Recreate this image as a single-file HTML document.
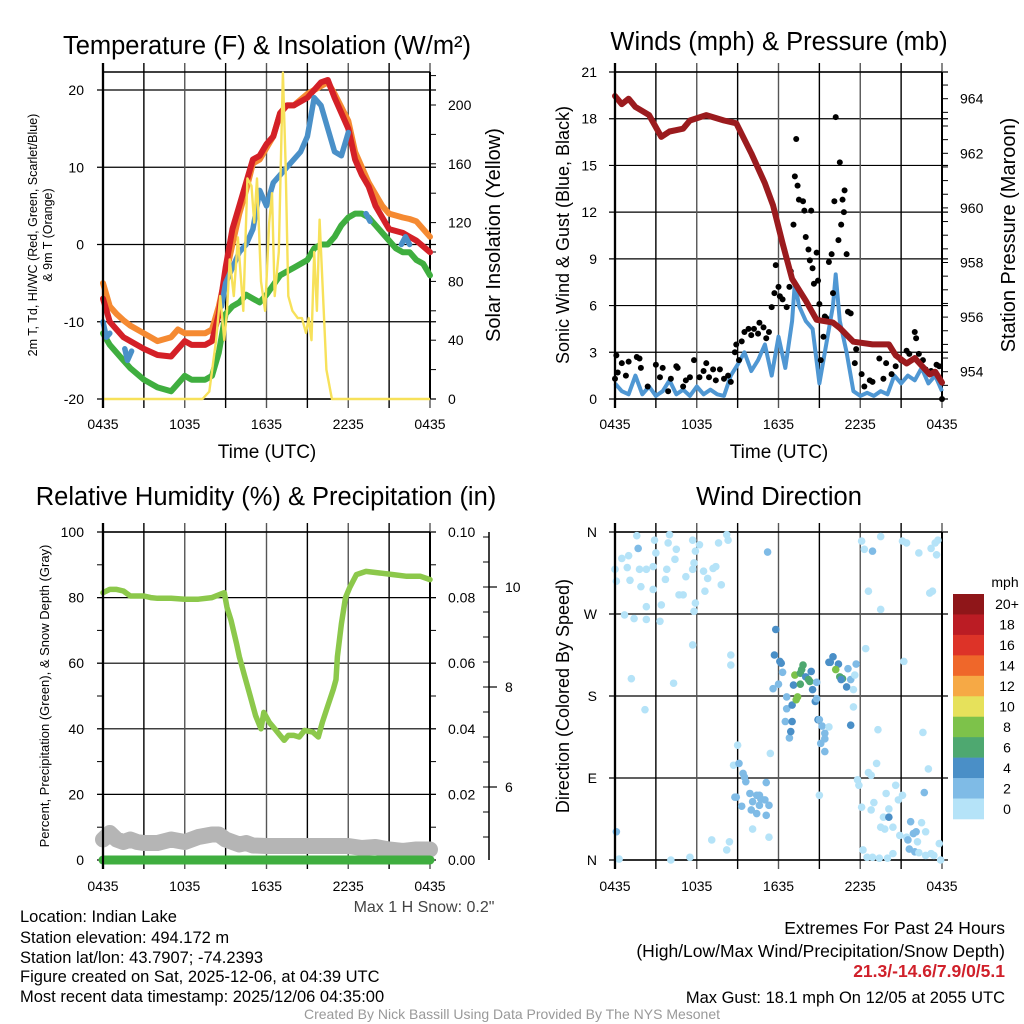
<!DOCTYPE html>
<html><head><meta charset="utf-8"><style>
html,body{margin:0;padding:0;background:#fff;}
svg{display:block;font-family:"Liberation Sans",sans-serif;}
</style></head><body>
<svg id="fig" width="1024" height="1024" viewBox="0 0 1024 1024" xmlns="http://www.w3.org/2000/svg">
<rect width="1024" height="1024" fill="#fff"/>
<g id="g1"></g>
<g id="g2"></g>
<g id="g3"></g>
<g id="g4"></g>
<g id="foot">
<text x="424" y="912" font-size="16" text-anchor="middle" fill="#444">Max 1 H Snow: 0.2"</text>
<text x="20" y="922" font-size="16.5">Location: Indian Lake</text>
<text x="20" y="943" font-size="16.5">Station elevation: 494.172 m</text>
<text x="20" y="963" font-size="16.5">Station lat/lon: 43.7907; -74.2393</text>
<text x="20" y="982" font-size="16.5">Figure created on Sat, 2025-12-06, at 04:39 UTC</text>
<text x="20" y="1002" font-size="16.5">Most recent data timestamp: 2025/12/06 04:35:00</text>
<text x="1005" y="934" font-size="17.5" text-anchor="end">Extremes For Past 24 Hours</text>
<text x="1005" y="957" font-size="17.5" text-anchor="end">(High/Low/Max Wind/Precipitation/Snow Depth)</text>
<text x="1005" y="977" font-size="17.5" font-weight="bold" text-anchor="end" fill="#d0202a">21.3/-14.6/7.9/0/5.1</text>
<text x="1005" y="1003" font-size="16.5" text-anchor="end">Max Gust: 18.1 mph On 12/05 at 2055 UTC</text>
<text x="512" y="1019" font-size="14" text-anchor="middle" fill="#999">Created By Nick Bassill Using Data Provided By The NYS Mesonet</text>
</g>
</svg>
<script>
// ---------- DATA ----------
const tempHours=[0,0.5,1,1.5,2,3,4,5,5.5,6,6.5,7,7.5,8,8.5,9,9.5,10,10.5,11,11.5,12,12.5,13,13.5,14,15,16,16.5,17,18,18.5,19,19.5,20,20.5,21,22,22.5,23,24];
const tempRed=[-7,-10,-11,-12,-12.5,-13.5,-14.3,-14.5,-13.5,-12.5,-13,-13,-13,-12.5,-9,-3,2,5,8,11,11.5,13,14,17,18,18,19,21,21.3,19,15,11,9,7.5,5,3.5,2,1.5,1,0.5,-1];
const tempOrange=[-5,-8,-9,-9.8,-10.5,-11.5,-12.5,-12,-11,-11.5,-11.5,-11.5,-11.5,-11,-8,-4,0,4,7,10.5,11,12.5,14,17,18,18,19.5,20.5,21,19.5,16,12,10,8,6.5,5,4,3.5,3.3,3,1];
const dewHours=[0,0.5,1,1.5,2,3,4,5,5.5,6,6.5,7,7.5,8,8.5,9,9.5,10,10.5,11,11.5,12,13,13.5,14,15,15.5,16,16.5,17,17.5,18,18.5,19,19.5,20,20.5,21,21.5,22,22.5,23,23.5,24];
const dewGreen=[-11.5,-13,-14,-15,-16,-17.5,-18.5,-19,-18,-17,-17.5,-17.5,-17.5,-17,-14,-9,-8,-7.5,-6.5,-7,-7.5,-6.5,-4,-3.5,-3,-2,-0.5,0,0,1,2.5,3.5,4,4,3.5,2.5,1.5,0.5,-0.5,-1,-1,-2,-2.5,-4];
const wcHours=[0,0.25,0.5,null,1.6,1.8,2.1,null,8.7,9,9.5,10,10.5,11,11.5,12,12.5,13,13.5,14,14.5,15,15.5,16,16.5,17,17.5,18,null,19.3,19.6,null,21.9,22.2,22.5];
const wcBlue=[-10,-12,-11.5,null,-13.5,-15,-13.8,null,-8,-5,-3,-1,0,2,7,5,8,9,10,11,12,14,19,18,15,12,11.5,14.5,null,4,3,null,0,1,0];
const solHours=[0,7.3,7.8,8.3,8.6,8.9,9.1,9.3,9.6,9.9,10.3,10.6,10.9,11.1,11.3,11.6,11.9,12.2,12.4,12.6,12.9,13.2,13.4,13.6,13.9,14.3,14.6,14.9,15.1,15.3,15.5,15.7,15.9,16.1,16.4,16.8,24];
const solYellow=[0,0,5,40,70,40,60,95,70,110,60,150,145,120,150,80,60,120,140,70,100,222,160,70,60,55,55,45,55,40,100,60,122,80,20,0,0];
const windHours=[0,0.5,1,1.5,2,2.5,3,3.5,4,4.5,5,5.5,6,6.5,7,7.5,8,8.5,9,9.5,10,10.5,11,11.5,12,12.5,13,13.2,13.5,14,14.5,15,15.5,16,16.2,16.5,17,17.5,18,18.5,19,19.5,20,20.5,21,21.5,22,22.5,23,23.5,24];
const windBlue=[1,0.5,0.3,1.5,0.3,0.8,0.2,0.5,1.2,0.3,0.6,0.2,0.8,0.3,0.6,0.3,0.2,1.5,2.2,3,1.8,2.5,3.5,1.5,4,2,5,7.5,6,5,4.5,1,3.5,6,8,5,3,0.5,0.2,0.4,0.2,0.5,0.3,1.5,1,1.5,1.2,2,1,1.5,0.5];
const gustHours=[0,0.1,0.2,0.5,1,0.8,1.6,1.8,1.9,2.4,3,3.3,3.5,3.9,4.1,4.5,4.6,5,5.2,5.5,5.8,6.2,6.5,6.7,6.9,7.2,7.4,7.7,8,8.3,8.5,8.8,8.9,9.1,9.3,9.5,9.8,10,10.2,10.5,10.6,10.9,11.1,11.3,11.5,11.7,11.8,12,12.1,12.3,12.6,12.8,12.9,13.1,13.2,13.3,13.4,13.5,13.8,13.9,14,14.2,14.3,14.4,14.5,14.6,14.8,14.9,15,15.1,15.3,15.4,15.5,15.7,15.9,16,16.1,16.2,16.4,16.5,16.6,16.7,16.8,16.85,17,17.1,17.3,17.6,17.7,18.1,18.3,18.7,18.9,19.4,19.7,19.9,20.3,20.6,21,21.4,21.6,22,22.1,22.3,22.6,22.8,23.2,23.6,23.8,24];
const gustVals=[1.3,2.8,1.7,2.3,2.4,1.5,2.7,2.6,2,0.8,2.2,1.4,2,0.5,1.3,2.1,2,0.8,1.2,1.4,2.5,1.4,1.8,2.3,1.4,1.9,1.2,1.9,1.3,1.5,1.1,3,3.5,2.5,3.7,4.3,4.5,4.1,4.5,4.2,4.9,4.6,3.9,4.3,5.9,6.8,8.6,7.2,6.6,6.4,5.9,7.2,8.2,11.2,14.3,16.7,13.7,12.8,12.7,12.1,10.4,9.6,8.9,12.1,8.4,7.4,9.4,7.6,6.1,2.5,4,5.3,5.2,8.8,9.3,6.8,12.7,18.1,10.2,15.2,11.2,12.8,12,13.4,9.3,5.6,5.5,2.3,3.2,1.6,0.8,1.2,1.1,2.6,1.3,2.3,1.6,2.1,2.5,3.1,2.9,4.3,3.9,2.9,2.5,1.9,1.8,2.2,2.1,0];
const presHours=[0,0.5,1,1.5,2.5,3.4,4,5,5.5,6.7,8,8.9,10,11,11.6,12.3,13,14,14.8,16,16.5,17.5,18.9,20.1,20.6,21.4,22,23.1,23.5,24];
const presVals=[964.1,963.8,964.0,963.7,963.4,962.6,962.8,962.9,963.2,963.4,963.2,963.1,962.0,960.9,960.1,958.7,957.4,956.6,955.9,955.8,955.6,955.1,955.0,955.0,954.6,954.3,954.5,953.9,954.0,953.6];
const rhHours=[0,0.5,1,1.5,2,2.5,3,3.5,4,5,6,7,8,8.9,9.1,9.4,9.8,10,10.4,10.8,11.2,11.6,11.8,12.2,12.6,13,13.3,13.6,14,14.4,14.8,15.4,15.8,16.1,16.5,16.9,17.1,17.2,17.5,17.8,18.1,18.6,19.3,20.3,21.3,22.3,23.3,24];
const rhVals=[81.5,82.5,82.5,82,80.5,80.5,80.5,80,79.8,79.8,79.5,79.5,80,81.5,77,73,66,62,56,50,44,40,45,42,40,38,36.5,38,38,37.5,39.5,39,37.5,42,47,52,55,62,72,80,83,87,88,87.5,87,86.5,86.5,85.5];
const snowHours=[0,0.5,1,1.5,2,2.5,3,4,5,6,7,8,8.5,9,9.5,10,10.5,11,12,14,16,18,19,20,21,22,23,24];
const snowVals=[4.95,5.08,4.95,4.9,4.95,4.9,4.88,4.88,4.95,4.9,5.0,5.05,5.05,4.95,4.9,4.85,4.88,4.83,4.82,4.82,4.82,4.82,4.78,4.8,4.75,4.72,4.75,4.75];
const precipHours=[0,24];
const precipVals=[0,0];
const dirHours=[0,0.1,0.5,1,0.9,1.1,1.7,1.6,1.8,1.9,2.3,2.8,2.9,3,2.8,2.3,1.4,0.7,2.3,3.3,3.4,3.8,3.7,4,3.9,4.5,4.4,4.7,5,5.2,5.7,5.8,5.9,6.2,5.7,6.5,6.6,6.8,7.2,7.4,7.8,8.2,8.3,7.6,5.9,5.8,5.7,8.5,8.5,4.3,1.2,2.2,0.1,0.3,4.1,5.5,7.1,8.2,8.4,9,8.7,9.1,9.4,9.5,9.6,8.8,8.9,9.3,9.9,10.1,10.4,10.6,10.7,11,10,10.4,10.6,11.1,11.3,11.1,10.1,11.3,11.4,11.2,11.8,11.7,12.1,12.2,12.3,12,11.6,12.6,12.6,12.5,12.8,12.9,13,13,13.1,13.2,13.4,13.3,13.6,13.7,13.8,13.6,14,14.2,14.3,14.4,14.5,14.8,14.7,14.8,14.9,15,15.2,15.7,15.4,15.4,15.1,15.4,15,15.7,16,15.8,16.4,16.2,16.5,16.7,16.6,17,17.1,17.3,17.5,17.3,17.5,17.7,17.6,18.4,19.3,18.6,18.8,19.2,17.8,17.9,18.1,18.8,19,19.5,19.7,19.9,20.1,20.1,19.8,20.4,20.6,20.8,20.9,21.1,21.4,21.5,21.7,21.9,22.1,22.5,22.2,22.8,23,22.6,22.7,21.6,22,22.3,22.8,23.2,23.4,23.8,23.9,18.2,18.5,18.9,19.4,20,20.4,18.1,18.3,18.9,19.5,21.1,21.4,21.2,18.6,19.5,22.3,23.1,23.3,23.2,23.5,23.7,23.6];
const dirDeg=[319,306,331,334,321,307,342,356,319,300,319,322,351,337,297,278,265,269,264,262,280,319,308,357,348,341,330,291,291,311,319,326,339,346,351,317,295,309,320,322,302,357,351,348,282,273,236,225,214,194,199,165,31,1,0,3,22,11,20,126,104,106,95,91,86,69,69,59,73,64,71,71,67,66,55,51,60,49,60,85,34,25,117,338,253,225,218,216,206,193,188,179,166,152,134,141,152,170,192,203,179,176,193,209,214,205,201,198,196,207,187,195,174,177,154,154,147,146,139,133,128,119,71,217,223,217,215,209,201,199,198,190,210,198,187,148,168,215,203,232,143,96,93,106,88,82,58,55,63,36,47,73,56,47,34,36,82,66,27,71,25,22,42,29,31,41,20,31,100,140,74,12,9,8,5,7,5,18,0,11,3,3,2,2,7,350,341,339,355,350,348,218,295,275,337,293,295,342,348,351,335];
const dirSpeed=[0.5,0.5,0.5,0.5,0.5,0.5,3,0.5,0.5,0.5,0.5,0.5,0.5,0.5,0.5,0.5,0.5,0.5,0.5,0.5,0.5,0.5,0.5,0.5,0.5,0.5,0.5,0.5,0.5,0.5,0.5,0.5,0.5,0.5,0.5,0.5,0.5,0.5,0.5,0.5,0.5,0.5,0.5,0.5,0.5,0.5,0.5,0.5,0.5,0.5,0.5,0.5,2.5,0.5,0.5,0.5,0.5,0.5,0.5,0.5,1,2,2.5,2.5,2.5,2.5,2.5,2.5,2,2.5,2.5,3,3,3,2,2.5,2,2.5,2,3,1,1,0.5,3.5,4,4,4,4,3,3,2.5,2.5,2.5,2,2.5,4,4,4,4,8,8,8,6,6,6,6,4,6,6,4,4,3,4,3,4,2,2,1,2.5,2.5,2.5,2.5,1,4,4,4,4,8,6,6,4,4,3,3,1,4,1,2,1,1,1,1,1,1,1,1,1,1,1,1,1,1,1,4,1,1,1,1,1,1,1,3,3,3,3,1,1,1,1,1,3,2.5,2.5,1,1,1,1,0.5,0.5,0.5,0.5,0.5,0.5,0.5,0.5,0.5,0.5,3,0.5,0.5,0.5,0.5,0.5,0.5,0.5,0.5,0.5,0.5,0.5,0.5];
const speedBins=["0","2","4","6","8","10","12","14","16","18","20+"];
const speedColors=["#b5e3f8","#7fbbe6","#4a8fc7","#4ea870","#7dc24a","#e6e15b","#f6a945","#ef672a","#dd3328","#bb1c24","#8f1619"];
const timeLabels=["0435","1035","1635","2235","0435"];

// ---------- HELPERS ----------
const NS="http://www.w3.org/2000/svg";
function mk(parent,tag,attrs,txt){const e=document.createElementNS(NS,tag);for(const k in attrs)e.setAttribute(k,attrs[k]);if(txt!==undefined)e.textContent=txt;parent.appendChild(e);return e;}
function pathFrom(xs,ys,fx,fy){let d="",pen=false;for(let i=0;i<xs.length;i++){if(xs[i]===null||ys[i]===null){pen=false;continue;}d+=(pen?"L":"M")+fx(xs[i]).toFixed(1)+","+fy(ys[i]).toFixed(1);pen=true;}return d;}

function frame(g,L,R,T,B,hLines,vCount){
  for(const y of hLines){const l=mk(g,"line",{x1:L-6,x2:R+6,y1:y,y2:y,stroke:"#000","stroke-width":1.2});
    
    }
  for(let i=0;i<=vCount;i++){const x=L+(R-L)*i/vCount;const l=mk(g,"line",{x1:x,x2:x,y1:T-9,y2:B+9,stroke:(i%2?"#000":"#555"),"stroke-width":(i===0?2.2:1.4)});
    
    }
  mk(g,"line",{x1:L,x2:R,y1:T,y2:T,stroke:"#000","stroke-width":1.4});
  mk(g,"line",{x1:L,x2:R,y1:B,y2:B,stroke:"#000","stroke-width":1.4});
  mk(g,"line",{x1:R,x2:R,y1:T,y2:B,stroke:"#000","stroke-width":2});
}
function xLabels(g,L,R,y){timeLabels.forEach((s,i)=>{const t=mk(g,"text",{x:L+(R-L)*i/4,y:y,"font-size":14,"text-anchor":"middle"},s);
  
  });}
function vtitle(g,x,y,size,s,name){const t=mk(g,"text",{x:x,y:y,"font-size":size,"text-anchor":"middle",transform:"rotate(-90 "+x+" "+y+")"},s);
  
  return t;}
function title(g,x,y,s,name){const t=mk(g,"text",{x:x,y:y,"font-size":25.5,"text-anchor":"middle"},s);
  
  return t;}
function minor(g,x,ys,dir){for(const y of ys)mk(g,"line",{x1:x,x2:x+dir*6,y1:y,y2:y,stroke:"#000","stroke-width":1});}

// ---------- PANEL 1 ----------
(function(){
const g=document.getElementById("g1");const L=103,R=430,T=72,B=399;
const X=h=>L+h*(R-L)/24, Y=v=>B-(v+20)*7.725, S=v=>B-v*1.47;
const tks=[-20,-10,0,10,20];
frame(g,L,R,T,B,tks.map(Y),8);
const mt=[];for(let v=20;v<=220;v+=20)mt.push(S(v));minor(g,R,mt,1);
tks.forEach(v=>{const t=mk(g,"text",{x:84,y:Y(v)+5,"font-size":14,"text-anchor":"end"},String(v));});
[0,40,80,120,160,200].forEach(v=>{const t=mk(g,"text",{x:448,y:S(v)+5,"font-size":14},String(v));});
const lines=[[dewHours,dewGreen,"#3fae3f",6,"dewpoint-line"],[tempHours,tempOrange,"#f58a32",6,"9m-temp-line"],[tempHours,tempRed,"#d42027",6,"temp-line"],[wcHours,wcBlue,"#4a90c8",5.5,"windchill-line"]];
lines.forEach(a=>{const p=mk(g,"path",{d:pathFrom(a[0],a[1],X,Y),fill:"none",stroke:a[2],"stroke-width":a[3],"stroke-linejoin":"round","stroke-linecap":"round"});});
const p=mk(g,"path",{d:pathFrom(solHours,solYellow,X,S),fill:"none",stroke:"#f7e15a","stroke-width":2.4,"stroke-linejoin":"round"});


mk(g,"line",{x1:L,x2:L,y1:T-9,y2:B+9,stroke:"#000","stroke-width":2.2});
xLabels(g,L,R,429);
const tx=mk(g,"text",{x:267,y:458,"font-size":19,"text-anchor":"middle"},"Time (UTC)");
title(g,267,54,"Temperature (F) & Insolation (W/m²)","panel-title");
vtitle(g,37,235,12.5,"2m T, Td, HI/WC (Red, Green, Scarlet/Blue)","y-axis-title");
vtitle(g,52,235,12.5,"& 9m T (Orange)","y-axis-title-2");
vtitle(g,500,235,20,"Solar Insolation (Yellow)","y2-axis-title");
})();

// ---------- PANEL 2 ----------
(function(){
const g=document.getElementById("g2");const L=615,R=942,T=72,B=399;
const X=h=>L+h*(R-L)/24, Y=v=>B-v*(B-T)/21, P=p=>B-(p-953)*27.3;
const tks=[0,3,6,9,12,15,18,21];
frame(g,L,R,T,B,tks.map(Y),8);
const mt=[];for(let p=953.5;p<965;p+=0.5)mt.push(P(p));minor(g,R,mt,1);
tks.forEach(v=>{const t=mk(g,"text",{x:597,y:Y(v)+5,"font-size":14,"text-anchor":"end"},String(v));});
[954,956,958,960,962,964].forEach(v=>{const t=mk(g,"text",{x:960,y:P(v)+5,"font-size":14},String(v));});
const w=mk(g,"path",{d:pathFrom(windHours,windBlue,X,Y),fill:"none",stroke:"#4f97d3","stroke-width":4,"stroke-linejoin":"round"});


gustHours.forEach((h,i)=>{const c=mk(g,"circle",{cx:X(h),cy:Y(gustVals[i]),r:3,fill:"#000"});
  
  });
const p=mk(g,"path",{d:pathFrom(presHours,presVals,X,P),fill:"none",stroke:"#9b1b1e","stroke-width":6,"stroke-linejoin":"round","stroke-linecap":"round"});


mk(g,"line",{x1:L,x2:L,y1:T-9,y2:B+9,stroke:"#000","stroke-width":2.2});
xLabels(g,L,R,429);
const tx=mk(g,"text",{x:779,y:458,"font-size":19,"text-anchor":"middle"},"Time (UTC)");
title(g,779,50,"Winds (mph) & Pressure (mb)","panel-title");
vtitle(g,569,235,18,"Sonic Wind & Gust (Blue, Black)","y-axis-title");
vtitle(g,1015,235,20,"Station Pressure (Maroon)","y2-axis-title");
})();

// ---------- PANEL 3 ----------
(function(){
const g=document.getElementById("g3");const L=103,R=430,T=532,B=860;
const X=h=>L+h*(R-L)/24, Y=v=>B-v*3.28, SN=s=>B-(s-4.54)*50;
const tks=[0,20,40,60,80,100];
frame(g,L,R,T,B,tks.map(Y),8);
const mt=[];for(let v=10;v<100;v+=10)mt.push(Y(v));minor(g,R,mt,1);
const ml=[];for(let v=10;v<=100;v+=10)ml.push(Y(v));minor(g,L,ml,-1);
tks.forEach(v=>{const t=mk(g,"text",{x:84,y:Y(v)+5,"font-size":14,"text-anchor":"end"},String(v));});
tks.forEach(v=>{const t=mk(g,"text",{x:448,y:Y(v)+5,"font-size":14},(v/1000).toFixed(2));});
mk(g,"line",{x1:489,x2:489,y1:T,y2:B,stroke:"#000","stroke-width":1.5});
const sm=[];for(let s=5;s<=11;s+=0.5)sm.push(SN(s));minor(g,489,sm,-1);
[6,8,10].forEach(v=>{mk(g,"line",{x1:489,x2:497,y1:SN(v),y2:SN(v),stroke:"#000","stroke-width":1.2});const t=mk(g,"text",{x:505,y:SN(v)+5,"font-size":14},String(v));});
const sn=mk(g,"path",{d:pathFrom(snowHours,snowVals,X,SN),fill:"none",stroke:"#b5b5b5","stroke-width":16,"stroke-linejoin":"round","stroke-linecap":"round"});


const pr=mk(g,"path",{d:pathFrom(precipHours,precipVals.map(v=>v*1000),X,Y),fill:"none",stroke:"#3fae3f","stroke-width":9,"stroke-linecap":"round"});


const rh=mk(g,"path",{d:pathFrom(rhHours,rhVals,X,Y),fill:"none",stroke:"#8cc84b","stroke-width":5.5,"stroke-linejoin":"round","stroke-linecap":"round"});


mk(g,"line",{x1:L,x2:L,y1:T-9,y2:B+9,stroke:"#000","stroke-width":2.2});
xLabels(g,L,R,891);
title(g,266,505,"Relative Humidity (%) & Precipitation (in)","panel-title");
vtitle(g,49,696,13,"Percent, Precipitation (Green), & Snow Depth (Gray)","y-axis-title");
})();

// ---------- PANEL 4 ----------
(function(){
const g=document.getElementById("g4");const L=615,R=942,T=532,B=860;
const X=h=>L+h*(R-L)/24, Y=d=>B-d*(B-T)/360;
const tks=[0,90,180,270,360];const names=["N","E","S","W","N"];
frame(g,L,R,T,B,tks.map(Y),8);
tks.forEach((v,i)=>{const t=mk(g,"text",{x:597,y:Y(v)+5,"font-size":14,"text-anchor":"end"},names[i]);});
dirHours.forEach((h,i)=>{const sp=(dirSpeed[i]===undefined)?0.5:dirSpeed[i];const bin=Math.min(10,Math.floor(sp/2));const c=mk(g,"circle",{cx:X(h),cy:Y(dirDeg[i]),r:3.8,fill:speedColors[bin]});
  
  });
mk(g,"line",{x1:L,x2:L,y1:T-9,y2:B+9,stroke:"#000","stroke-width":2.2});
xLabels(g,L,R,891);
title(g,779,505,"Wind Direction","panel-title");
vtitle(g,569,696,18,"Direction (Colored By Speed)","y-axis-title");
const cb=mk(g,"g",{});


const top=594,h=(819-594)/11;
for(let i=0;i<11;i++){const k=10-i;const r=mk(cb,"rect",{x:953,y:top+i*h,width:31,height:h+0.3,fill:speedColors[k]});
  
  
  const t=mk(cb,"text",{x:1007,y:top+i*h+h/2+5,"font-size":14,"text-anchor":"middle"},speedBins[k]);
  
  }
const u=mk(cb,"text",{x:1005,y:587,"font-size":14,"text-anchor":"middle"},"mph");


})();
</script>
</body></html>
